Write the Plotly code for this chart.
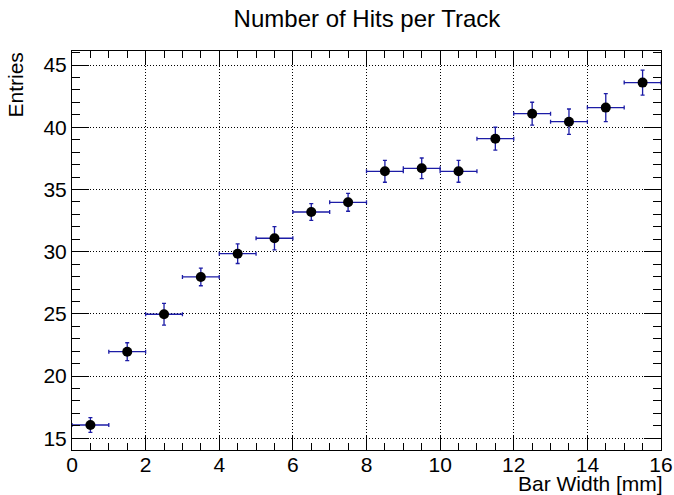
import plotly.graph_objects as go

bin_centers = [0.5, 1.5, 2.5, 3.5, 4.5, 5.5, 6.5, 7.5, 8.5, 9.5, 10.5, 11.5, 12.5, 13.5, 14.5, 15.5]
entries = [16.07, 21.96, 24.97, 27.97, 29.84, 31.08, 33.19, 33.97, 36.46, 36.70, 36.46, 39.08, 41.09, 40.45, 41.58, 43.59]
errors = [0.59, 0.72, 0.88, 0.71, 0.79, 0.94, 0.68, 0.72, 0.88, 0.83, 0.88, 0.92, 0.92, 1.02, 1.13, 1.00]
half_width = [0.5] * len(bin_centers)

x_range = [0, 16]
y_range = [14.06, 46.13]
x_ticks = [0, 2, 4, 6, 8, 10, 12, 14, 16]
y_ticks = [15, 20, 25, 30, 35, 40, 45]

err_color = "#1c1ca6"
font = "Liberation Sans, Arial, Helvetica, sans-serif"

fig = go.Figure()
fig.add_trace(go.Scatter(
    x=bin_centers, y=entries, mode="markers",
    marker=dict(color="black", size=10),
    error_x=dict(type="data", array=half_width, color=err_color, thickness=1.3, width=2),
    error_y=dict(type="data", array=errors, color=err_color, thickness=1.3, width=2),
    showlegend=False,
))

axis_common = dict(
    showline=True, linecolor="black", linewidth=1, mirror="ticks",
    ticks="inside", tickcolor="black", tickwidth=1,
    showgrid=True, gridcolor="black", gridwidth=1, griddash="1px,2px",
    zeroline=False, automargin=False,
    tickfont=dict(family=font, size=21, color="black"),
)

fig.update_xaxes(range=x_range, tickvals=x_ticks, ticklen=14, ticklabelstandoff=-4,
                 minor=dict(ticks="inside", dtick=0.5, ticklen=7, tickcolor="black", showgrid=False),
                 **axis_common)
fig.update_yaxes(range=y_range, tickvals=y_ticks, ticklen=17,
                 minor=dict(ticks="inside", dtick=1, ticklen=8, tickcolor="black", showgrid=False),
                 **axis_common)

fig.update_layout(
    width=674, height=495,
    margin=dict(l=72, r=13, t=51, b=45),
    plot_bgcolor="white", paper_bgcolor="white",
    title=dict(text="Number of Hits per Track", x=0.5445, xanchor="center", y=0.963, yanchor="middle",
               font=dict(family=font, size=24, color="black")),
    annotations=[
        dict(text="Entries", textangle=-90, xref="paper", yref="paper", x=0, y=1,
             xanchor="center", yanchor="top", xshift=-57, showarrow=False,
             font=dict(family=font, size=21, color="black")),
        dict(text="Bar Width [mm]", xref="paper", yref="paper", x=1, y=0,
             xanchor="right", yanchor="top", yshift=-21, xshift=3, showarrow=False,
             borderpad=0, font=dict(family=font, size=21, color="black")),
    ],
)

fig.write_html("out.html", config={"displayModeBar": False},
               post_script="document.body.style.margin='0';document.body.style.overflow='hidden';")
